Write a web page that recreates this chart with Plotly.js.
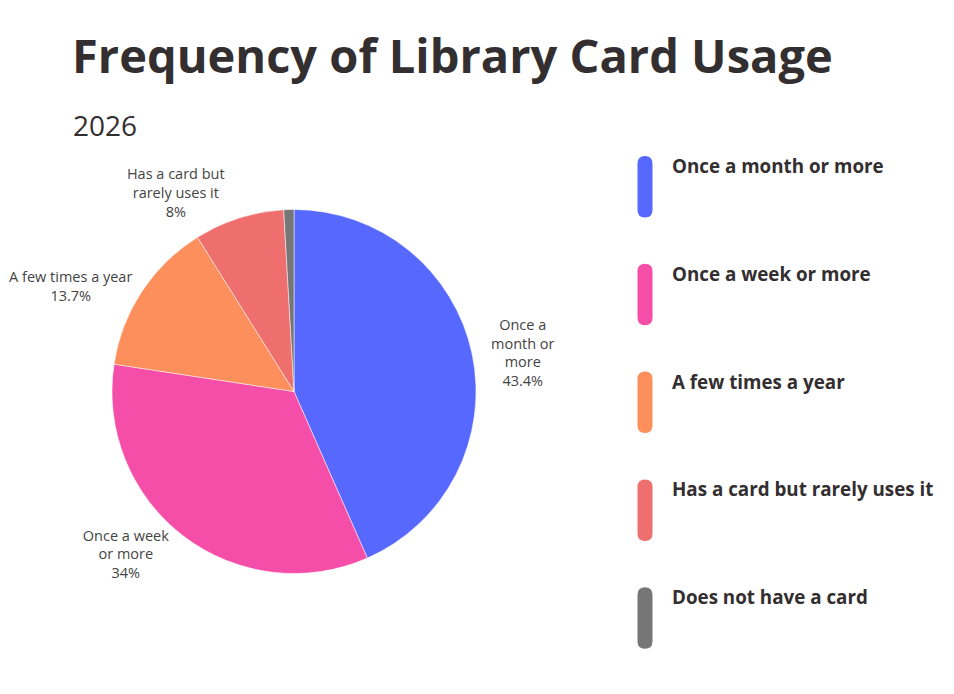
<!DOCTYPE html>
<html>
<head>
<meta charset="utf-8">
<script src="https://cdn.plot.ly/plotly-3.0.1.min.js"></script>
<style>
  html, body { margin: 0; padding: 0; background: #fff; }
  #chart { width: 954px; height: 694px; }
</style>
</head>
<body>
<div id="chart"></div>
<script>
// share of respondents, 2026
const categories = ['Once a month or more', 'Once a week or more', 'A few times a year',
                    'Has a card but rarely uses it', 'Does not have a card'];
const sliceLabels = ['Once a<br>month or<br>more', 'Once a week<br>or more', 'A few times a year',
                     'Has a card but<br>rarely uses it', ''];
const shares = [43.4, 34, 13.7, 8, 0.9];
const colors = ['#5768ff', '#f54ea9', '#fc8f5b', '#ef6e6e', '#767676'];

const font = '"Open Sans", sans-serif';

const trace = {
    type: 'pie',
    labels: categories,
    values: shares,
    text: sliceLabels,
    textinfo: 'text+percent',
    textposition: ['outside', 'outside', 'outside', 'outside', 'none'],
    textfont: { family: font, size: 14.5, color: '#444' },
    sort: false,
    direction: 'clockwise',
    rotation: 0,
    marker: { colors: colors, line: { color: '#fff', width: 0.5 } },
    domain: { x: [112 / 954, 476 / 954], y: [1 - 574 / 694, 1 - 209 / 694] },
    showlegend: false,
    hoverinfo: 'label+percent'
};

// hand-made legend: tall rounded bars with bold labels
const shapes = [];
const annotations = [
    { text: '<b>Frequency of Library Card Usage</b>', xref: 'paper', yref: 'paper',
      x: 70 / 954, y: 1 - 21 / 694, xanchor: 'left', yanchor: 'top', showarrow: false,
      font: { family: font, size: 47, color: '#332e2f' } },
    { text: '2026', xref: 'paper', yref: 'paper',
      x: 71 / 954, y: 1 - 104 / 694, xanchor: 'left', yanchor: 'top', showarrow: false,
      font: { family: font, size: 28, color: '#332e2f' } }
];
categories.forEach((c, i) => {
    const top = 156 + i * 107.8;
    shapes.push({
        type: 'path', xref: 'paper', yref: 'paper',
        xsizemode: 'pixel', ysizemode: 'pixel',
        xanchor: 645 / 954, yanchor: 1 - top / 694,
        path: 'M -7.5 -7.5 L -7.5 -54 Q -7.5 -61.5 0 -61.5 Q 7.5 -61.5 7.5 -54 L 7.5 -7.5 Q 7.5 0 0 0 Q -7.5 0 -7.5 -7.5 Z',
        fillcolor: colors[i], line: { width: 0 }
    });
    annotations.push({
        text: '<b>' + c + '</b>', xref: 'paper', yref: 'paper',
        x: 670 / 954, y: 1 - (top - 5) / 694, xanchor: 'left', yanchor: 'top', showarrow: false,
        font: { family: font, size: 18.8, color: '#332e2f' }
    });
});

const layout = {
    width: 954,
    height: 694,
    margin: { l: 0, r: 0, t: 0, b: 0 },
    paper_bgcolor: '#fff',
    font: { family: font },
    shapes: shapes,
    annotations: annotations
};

Plotly.newPlot('chart', [trace], layout, { displayModeBar: false });
</script>
</body>
</html>
